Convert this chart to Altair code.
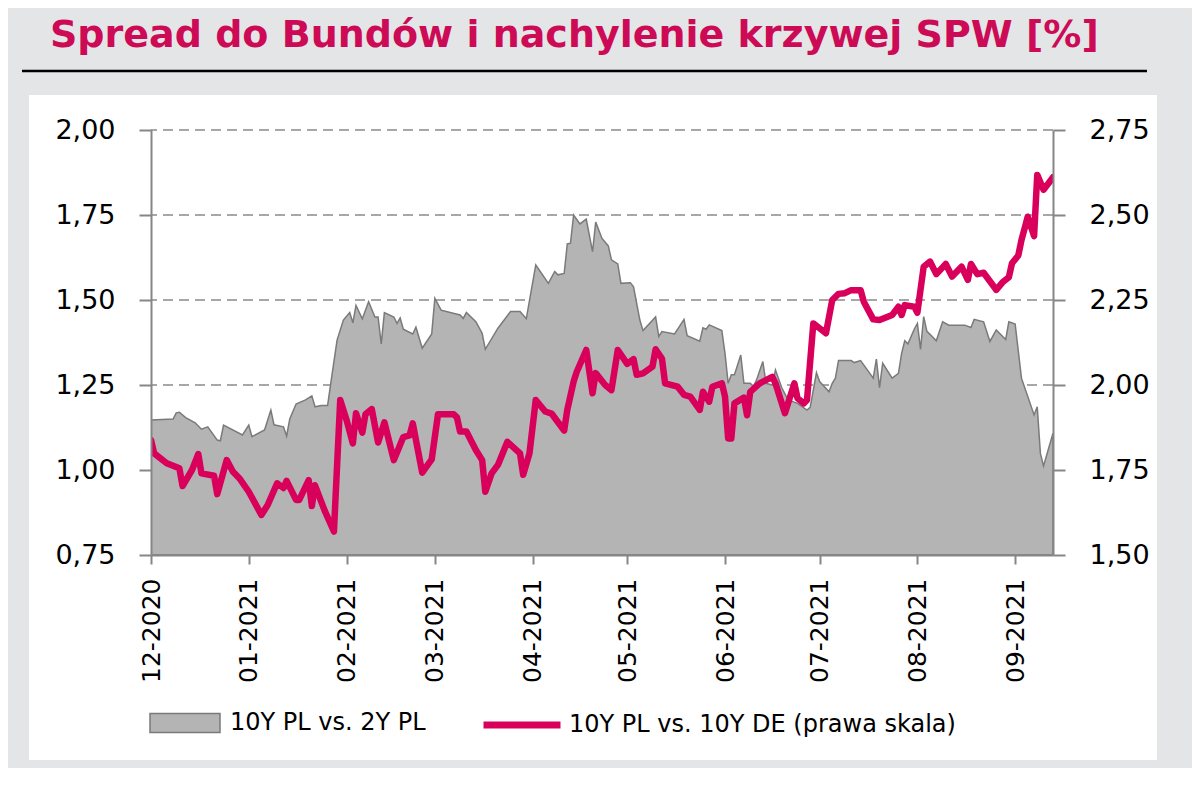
import altair as alt
import pandas as pd

TITLE = "Spread do Bundów i nachylenie krzywej SPW [%]"
SERIES_AREA = "10Y PL vs. 2Y PL"
SERIES_LINE = "10Y PL vs. 10Y DE (prawa skala)"

area_dates = [
    "2020-12-01", "2020-12-08", "2020-12-09", "2020-12-10", "2020-12-12", "2020-12-15",
    "2020-12-17", "2020-12-19", "2020-12-22", "2020-12-23", "2020-12-24", "2020-12-30",
    "2021-01-01", "2021-01-02", "2021-01-06", "2021-01-08", "2021-01-09", "2021-01-12",
    "2021-01-13", "2021-01-14", "2021-01-16", "2021-01-19", "2021-01-21", "2021-01-22",
    "2021-01-24", "2021-01-26", "2021-01-27", "2021-01-29", "2021-01-31",
    "2021-02-02", "2021-02-03", "2021-02-04", "2021-02-06", "2021-02-08", "2021-02-10",
    "2021-02-11", "2021-02-12", "2021-02-13", "2021-02-16", "2021-02-17", "2021-02-18",
    "2021-02-19", "2021-02-22", "2021-02-23", "2021-02-25", "2021-02-28",
    "2021-03-01", "2021-03-03", "2021-03-09", "2021-03-10", "2021-03-11", "2021-03-14",
    "2021-03-16", "2021-03-17", "2021-03-21", "2021-03-25", "2021-03-28", "2021-03-30",
    "2021-04-02", "2021-04-06", "2021-04-08", "2021-04-09", "2021-04-11", "2021-04-12",
    "2021-04-13", "2021-04-14", "2021-04-16", "2021-04-18", "2021-04-20", "2021-04-21",
    "2021-04-23", "2021-04-25", "2021-04-26", "2021-04-28", "2021-04-29",
    "2021-05-02", "2021-05-03", "2021-05-05", "2021-05-06", "2021-05-10", "2021-05-11",
    "2021-05-12", "2021-05-16", "2021-05-19", "2021-05-20", "2021-05-24", "2021-05-25",
    "2021-05-26", "2021-05-27", "2021-05-31",
    "2021-06-01", "2021-06-02", "2021-06-03", "2021-06-04", "2021-06-06", "2021-06-07",
    "2021-06-09", "2021-06-10", "2021-06-11", "2021-06-13", "2021-06-14", "2021-06-16",
    "2021-06-17", "2021-06-19", "2021-06-21", "2021-06-24", "2021-06-27", "2021-06-28",
    "2021-06-30",
    "2021-07-01", "2021-07-04", "2021-07-05", "2021-07-06", "2021-07-07", "2021-07-11",
    "2021-07-12", "2021-07-14", "2021-07-18", "2021-07-19", "2021-07-20", "2021-07-21",
    "2021-07-24", "2021-07-26", "2021-07-27", "2021-07-28", "2021-07-29", "2021-07-31",
    "2021-08-01", "2021-08-02", "2021-08-03", "2021-08-04", "2021-08-05", "2021-08-07",
    "2021-08-09", "2021-08-11", "2021-08-16", "2021-08-18", "2021-08-19", "2021-08-22",
    "2021-08-24", "2021-08-26", "2021-08-29", "2021-08-30",
    "2021-09-01", "2021-09-03", "2021-09-07", "2021-09-08", "2021-09-09", "2021-09-10",
    "2021-09-13",
]
area_values = [
    1.147, 1.150, 1.168, 1.170, 1.154, 1.139, 1.120, 1.127, 1.088, 1.086, 1.132, 1.103,
    1.132, 1.098, 1.118, 1.176, 1.133, 1.127, 1.100, 1.150, 1.194, 1.206, 1.218, 1.186,
    1.190, 1.190, 1.255, 1.382, 1.441,
    1.463, 1.433, 1.484, 1.445, 1.495, 1.450, 1.450, 1.371, 1.463, 1.450, 1.431, 1.447,
    1.414, 1.400, 1.420, 1.358, 1.400,
    1.505, 1.470, 1.456, 1.446, 1.463, 1.436, 1.402, 1.355, 1.417, 1.466, 1.466, 1.445,
    1.603, 1.549, 1.584, 1.574, 1.578, 1.665, 1.667, 1.750, 1.724, 1.738, 1.642, 1.729,
    1.681, 1.659, 1.618, 1.606, 1.549,
    1.551, 1.539, 1.441, 1.410, 1.450, 1.393, 1.407, 1.400, 1.443, 1.395, 1.379, 1.418,
    1.414, 1.427, 1.410,
    1.343, 1.255, 1.280, 1.280, 1.338, 1.255, 1.255, 1.246, 1.265, 1.319, 1.255, 1.250,
    1.294, 1.242, 1.206, 1.196, 1.176, 1.184, 1.286,
    1.260, 1.230, 1.255, 1.270, 1.322, 1.322, 1.316, 1.322, 1.270, 1.326, 1.242, 1.314,
    1.270, 1.284, 1.343, 1.380, 1.371, 1.414,
    1.431, 1.355, 1.451, 1.408, 1.399, 1.380, 1.436, 1.426, 1.426, 1.419, 1.443, 1.436,
    1.378, 1.412, 1.384, 1.436,
    1.429, 1.270, 1.162, 1.186, 1.049, 1.012, 1.108,
]

line_dates = [
    "2020-12-01", "2020-12-02", "2020-12-06", "2020-12-10", "2020-12-11", "2020-12-14",
    "2020-12-16", "2020-12-17", "2020-12-21", "2020-12-22", "2020-12-25", "2020-12-27",
    "2020-12-29",
    "2021-01-01", "2021-01-05", "2021-01-07", "2021-01-10", "2021-01-12", "2021-01-13",
    "2021-01-16", "2021-01-17", "2021-01-20", "2021-01-21", "2021-01-22", "2021-01-25",
    "2021-01-28", "2021-01-30",
    "2021-02-01", "2021-02-03", "2021-02-04", "2021-02-06", "2021-02-07", "2021-02-09",
    "2021-02-11", "2021-02-13", "2021-02-16", "2021-02-19", "2021-02-21", "2021-02-22",
    "2021-02-25", "2021-02-28",
    "2021-03-02", "2021-03-07", "2021-03-08", "2021-03-09", "2021-03-11", "2021-03-14",
    "2021-03-16", "2021-03-17", "2021-03-19", "2021-03-21", "2021-03-24", "2021-03-28",
    "2021-03-29", "2021-03-31",
    "2021-04-02", "2021-04-05", "2021-04-07", "2021-04-11", "2021-04-12", "2021-04-14",
    "2021-04-15", "2021-04-18", "2021-04-20", "2021-04-21", "2021-04-24", "2021-04-26",
    "2021-04-28",
    "2021-05-01", "2021-05-03", "2021-05-04", "2021-05-06", "2021-05-09", "2021-05-10",
    "2021-05-12", "2021-05-13", "2021-05-17", "2021-05-19", "2021-05-21", "2021-05-24",
    "2021-05-25", "2021-05-27", "2021-05-28", "2021-05-31",
    "2021-06-01", "2021-06-02", "2021-06-03", "2021-06-04", "2021-06-07", "2021-06-08",
    "2021-06-09", "2021-06-12", "2021-06-16", "2021-06-17", "2021-06-20", "2021-06-23",
    "2021-06-24", "2021-06-26", "2021-06-27", "2021-06-29",
    "2021-07-01", "2021-07-03", "2021-07-05", "2021-07-07", "2021-07-09", "2021-07-11",
    "2021-07-14", "2021-07-15", "2021-07-18", "2021-07-20", "2021-07-24", "2021-07-26",
    "2021-07-27", "2021-07-28", "2021-07-31",
    "2021-08-01", "2021-08-03", "2021-08-05", "2021-08-07", "2021-08-10", "2021-08-12",
    "2021-08-15", "2021-08-17", "2021-08-18", "2021-08-20", "2021-08-22", "2021-08-26",
    "2021-08-28", "2021-08-30", "2021-08-31",
    "2021-09-02", "2021-09-03", "2021-09-05", "2021-09-07", "2021-09-08", "2021-09-10",
    "2021-09-13",
]
line_values = [
    1.838, 1.799, 1.770, 1.755, 1.703, 1.750, 1.797, 1.740, 1.733, 1.679, 1.779, 1.745,
    1.726,
    1.686, 1.618, 1.647, 1.711, 1.697, 1.718, 1.662, 1.662, 1.720, 1.644, 1.705, 1.632,
    1.569, 1.956,
    1.897, 1.828, 1.917, 1.860, 1.914, 1.929, 1.831, 1.890, 1.779, 1.847, 1.852, 1.887,
    1.742, 1.781,
    1.914, 1.914, 1.905, 1.863, 1.863, 1.809, 1.779, 1.686, 1.740, 1.765, 1.833, 1.799,
    1.736, 1.799,
    1.956, 1.922, 1.916, 1.866, 1.927, 2.010, 2.039, 2.103, 1.976, 2.035, 2.000, 1.985,
    2.103,
    2.062, 2.076, 2.030, 2.034, 2.054, 2.105, 2.078, 2.005, 1.995, 1.971, 1.966, 1.927,
    1.980, 1.951, 1.995, 2.005,
    1.966, 1.843, 1.843, 1.946, 1.963, 1.911, 1.980, 2.005, 2.024, 2.005, 1.917, 2.005,
    1.961, 1.946, 1.956, 2.181,
    2.167, 2.152, 2.250, 2.268, 2.270, 2.279, 2.279, 2.245, 2.193, 2.191, 2.206, 2.230,
    2.206, 2.235, 2.230,
    2.213, 2.348, 2.363, 2.326, 2.356, 2.319, 2.348, 2.309, 2.356, 2.326, 2.330, 2.280,
    2.302, 2.317, 2.358,
    2.381, 2.426, 2.495, 2.438, 2.618, 2.574, 2.611,
]

left_ticks = [0.75, 1.00, 1.25, 1.50, 1.75, 2.00]
grid_ticks = [1.00, 1.25, 1.50, 1.75, 2.00]
right_ticks = [1.50, 1.75, 2.00, 2.25, 2.50, 2.75]
month_ticks = ["2020-12", "2021-01", "2021-02", "2021-03", "2021-04",
               "2021-05", "2021-06", "2021-07", "2021-08", "2021-09"]
x_start = (2020, 12, 1)
x_end = (2021, 9, 13)

# ---- styles ----
FONT = "DejaVu Sans"
BG = "#e4e5e6"
TITLE_COLOR = "#cc0a55"
LINE_COLOR = "#d9005b"
AREA_FILL = "#b4b4b4"
AREA_STROKE = "#7a7a7a"
AXIS_GRAY = "#868686"
W, H = 902, 425

area_df = pd.DataFrame({"date": area_dates, "value": area_values, "series": SERIES_AREA})
line_df = pd.DataFrame({"date": line_dates, "value": line_values, "series": SERIES_LINE})
grid_df = pd.DataFrame({"v": grid_ticks})
one = pd.DataFrame({"t": [TITLE]})

def dt(y, m, d):
    return alt.DateTime(year=y, month=m, date=d, utc=True)

tick_dates = [dt(int(s[:4]), int(s[5:7]), 1) for s in month_ticks]
x_scale = alt.Scale(type="utc", domain=[dt(*x_start), dt(*x_end)])
x_axis = alt.Axis(values=tick_dates, format="%m-%Y", labelAngle=270, labelFontSize=25,
                  labelFont=FONT, labelColor="black", labelPadding=14, tickSize=9,
                  tickWidth=2, tickColor=AXIS_GRAY, domainColor=AXIS_GRAY, domainWidth=2,
                  grid=False, title=None, zindex=1, labelFlush=False, labelOverlap=False)

comma = "replace(format(datum.value, '.2f'), '.', ',')"

def y_axis(vals, orient):
    return alt.Axis(values=vals, orient=orient, labelExpr=comma, labelFontSize=27,
                    labelFont=FONT, labelColor="black", labelPadding=24, tickSize=12,
                    tickWidth=2, tickColor=AXIS_GRAY, domainColor=AXIS_GRAY, domainWidth=2,
                    grid=False, title=None, zindex=1)

panel = alt.Chart(one).mark_rect(color="white").encode(
    x=alt.value(-122), x2=alt.value(1006), y=alt.value(-35), y2=alt.value(630))

grid = alt.Chart(grid_df).mark_rule(color="#8a8a8a", strokeWidth=1.5, strokeDash=[10, 6]).encode(
    y=alt.Y("v:Q", scale=alt.Scale(domain=[0.75, 2.0], zero=False, nice=False), axis=None))

area = alt.Chart(area_df).mark_area(stroke=AREA_STROKE, strokeWidth=1.5, clip=True,
                                    interpolate="linear").encode(
    x=alt.X("date:T", scale=x_scale, axis=x_axis),
    y=alt.Y("value:Q", scale=alt.Scale(domain=[0.75, 2.0], zero=False, nice=False),
            axis=y_axis(left_ticks, "left")),
    y2=alt.datum(0.75),
    color=alt.Color("series:N", scale=alt.Scale(domain=[SERIES_AREA], range=[AREA_FILL]),
                    legend=alt.Legend(orient="none", legendX=-2, legendY=557, title=None,
                                      symbolType="M-1,-0.27L1,-0.27L1,0.27L-1,0.27Z",
                                      symbolSize=4900, symbolStrokeColor=AREA_STROKE,
                                      symbolStrokeWidth=1.5, symbolOpacity=1,
                                      labelFont=FONT, labelFontSize=24, labelColor="black",
                                      labelOffset=9, labelLimit=0, padding=0)),
)

line = alt.Chart(line_df).mark_line(strokeWidth=6.5, strokeJoin="round", strokeCap="round",
                                    clip=True).encode(
    x=alt.X("date:T", scale=x_scale, axis=x_axis),
    y=alt.Y("value:Q", scale=alt.Scale(domain=[1.5, 2.75], zero=False, nice=False),
            axis=y_axis(right_ticks, "right")),
    color=alt.Color("series:N", scale=alt.Scale(domain=[SERIES_LINE], range=[LINE_COLOR]),
                    legend=alt.Legend(orient="none", legendX=329, legendY=553, title=None,
                                      symbolType="stroke", symbolSize=5929,
                                      symbolStrokeWidth=7, labelFont=FONT, labelFontSize=24,
                                      labelColor="black", labelOffset=5, labelLimit=0,
                                      padding=0)),
)

title = alt.Chart(one).mark_text(align="left", baseline="alphabetic", font=FONT,
                                 fontSize=38, fontWeight="bold", color=TITLE_COLOR).encode(
    x=alt.value(-101), y=alt.value(-83), text="t:N")

underline = alt.Chart(one).mark_rule(color="black", strokeWidth=2.5).encode(
    x=alt.value(-129), x2=alt.value(996), y=alt.value(-59))

chart = alt.layer(panel, grid, area, line, title, underline).resolve_scale(
    y="independent", color="independent"
).resolve_legend(color="independent").properties(
    width=W, height=H, background=BG,
    autosize=alt.AutoSizeParams(type="none"),
    padding={"left": 143, "top": 122, "right": 139, "bottom": 213},
).configure_view(strokeWidth=0)

chart.save("out.html", embed_options={"renderer": "svg", "actions": False})
